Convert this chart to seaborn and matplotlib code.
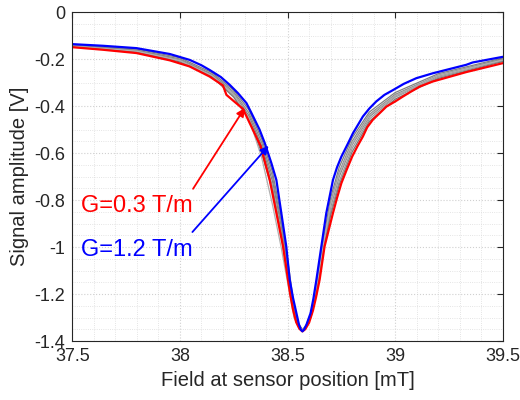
import matplotlib
matplotlib.use("Agg")
import matplotlib.pyplot as plt
import seaborn as sns
import numpy as np
import pandas as pd
from matplotlib.ticker import MultipleLocator

# ---------------- data ----------------
red_x = [37.5, 37.643, 37.798, 37.953, 38.045, 38.138, 38.200, 38.216, 38.293, 38.324,
         38.375, 38.417, 38.448, 38.479, 38.502, 38.512, 38.525, 38.540, 38.555, 38.569,
         38.582, 38.600, 38.618, 38.632, 38.649, 38.672, 38.711, 38.730, 38.750, 38.775,
         38.800, 38.825, 38.850, 38.870, 38.896, 38.930, 38.959, 39.0, 39.036, 39.07,
         39.113, 39.175, 39.330, 39.5]
red_y = [-0.149, -0.160, -0.174, -0.205, -0.231, -0.274, -0.312, -0.352, -0.412, -0.472,
         -0.570, -0.714, -0.855, -0.997, -1.139, -1.20, -1.265, -1.320, -1.348, -1.359,
         -1.350, -1.322, -1.270, -1.215, -1.139, -0.997, -0.855, -0.790, -0.728, -0.670,
         -0.615, -0.570, -0.529, -0.490, -0.458, -0.428, -0.402, -0.380, -0.359, -0.340,
         -0.317, -0.295, -0.255, -0.217]

blue_x = [37.5, 37.643, 37.798, 37.953, 38.045, 38.10, 38.138, 38.19, 38.231, 38.27,
          38.309, 38.33, 38.355, 38.37, 38.394, 38.425, 38.448, 38.471, 38.494, 38.510,
          38.525, 38.541, 38.553, 38.562, 38.569, 38.576, 38.588, 38.607, 38.62, 38.634,
          38.657, 38.680, 38.711, 38.73, 38.750, 38.78, 38.804, 38.83, 38.850, 38.88,
          38.912, 38.95, 38.989, 39.04, 39.098, 39.175, 39.330, 39.36, 39.5]
blue_y = [-0.136, -0.143, -0.153, -0.178, -0.203, -0.226, -0.246, -0.276, -0.309, -0.345,
          -0.387, -0.425, -0.472, -0.500, -0.557, -0.643, -0.714, -0.855, -0.997, -1.139,
          -1.215, -1.281, -1.330, -1.352, -1.359, -1.352, -1.330, -1.281, -1.220, -1.139,
          -0.997, -0.855, -0.714, -0.660, -0.615, -0.560, -0.515, -0.475, -0.444, -0.410,
          -0.380, -0.352, -0.332, -0.305, -0.281, -0.260, -0.224, -0.214, -0.190]

gray_x = [37.5, 37.8, 38.0, 38.15, 38.25, 38.32, 38.38, 38.43, 38.47, 38.50, 38.53,
          38.55, 38.57, 38.585, 38.61, 38.64, 38.67, 38.70, 38.74, 38.80, 38.88, 39.0,
          39.2, 39.5]
gray1 = [-0.139, -0.157, -0.194, -0.258, -0.332, -0.415, -0.54, -0.68, -0.87, -1.05, -1.25,
         -1.325, -1.352, -1.335, -1.28, -1.12, -0.95, -0.79, -0.66, -0.535, -0.425, -0.342,
         -0.262, -0.195]
gray2 = [-0.141, -0.161, -0.199, -0.264, -0.340, -0.428, -0.555, -0.70, -0.89, -1.07, -1.26,
         -1.330, -1.352, -1.338, -1.285, -1.135, -0.965, -0.81, -0.68, -0.55, -0.435, -0.350,
         -0.268, -0.199]
gray3 = [-0.143, -0.164, -0.204, -0.268, -0.348, -0.44, -0.57, -0.72, -0.91, -1.09, -1.27,
         -1.335, -1.355, -1.340, -1.29, -1.15, -0.98, -0.83, -0.70, -0.565, -0.445, -0.356,
         -0.272, -0.202]
gray4 = [-0.145, -0.167, -0.208, -0.272, -0.356, -0.45, -0.585, -0.74, -0.93, -1.10, -1.28,
         -1.338, -1.355, -1.342, -1.29, -1.16, -0.99, -0.85, -0.72, -0.58, -0.455, -0.362,
         -0.277, -0.206]
gray5 = [-0.146, -0.170, -0.212, -0.276, -0.362, -0.455, -0.60, -0.76, -0.95, -1.12, -1.29,
         -1.335, -1.350, -1.345, -1.295, -1.17, -1.00, -0.865, -0.735, -0.595, -0.465, -0.370,
         -0.282, -0.210]
gray6 = [-0.144, -0.166, -0.206, -0.27, -0.35, -0.45, -0.62, -0.82, -1.00, -1.15, -1.30,
         -1.340, -1.350, -1.335, -1.28, -1.14, -0.97, -0.82, -0.69, -0.56, -0.44, -0.355,
         -0.27, -0.203]
grays = [gray1, gray2, gray3, gray4, gray5, gray6]
gray_colors = ["#7f7f7f", "#8a8a8a", "#808080", "#9a9a9a", "#777777", "#b0b0b0"]

x_ticks = [37.5, 38, 38.5, 39, 39.5]
x_ticklabels = ["37.5", "38", "38.5", "39", "39.5"]
y_ticks = [-1.4, -1.2, -1.0, -0.8, -0.6, -0.4, -0.2, 0]
y_ticklabels = ["-1.4", "-1.2", "-1", "-0.8", "-0.6", "-0.4", "-0.2", "0"]

label_red = "G=0.3 T/m"
label_blue = "G=1.2 T/m"
arrow_red = [(38.061, -0.752), (38.301, -0.408)]
arrow_blue = [(38.058, -0.936), (38.412, -0.569)]

# ---------------- style ----------------
sns.set_style("white")
plt.rcParams["font.family"] = ["Liberation Sans", "DejaVu Sans"]
txt = "#262626"

fig = plt.figure(figsize=(5.2, 4.0), dpi=100)
ax = fig.add_axes([0.139, 0.1475, 0.828, 0.822])

for g, c in zip(grays, gray_colors):
    sns.lineplot(x=gray_x, y=g, ax=ax, color=c, linewidth=0.9, sort=False,
                 estimator=None)
sns.lineplot(x=red_x, y=red_y, ax=ax, color="#ff0000", linewidth=1.6, sort=False,
             estimator=None)
sns.lineplot(x=blue_x, y=blue_y, ax=ax, color="#0000ff", linewidth=1.6, sort=False,
             estimator=None)

ax.set_xlim(37.5, 39.5)
ax.set_ylim(-1.4, 0)
ax.set_xticks(x_ticks)
ax.set_xticklabels(x_ticklabels)
ax.set_yticks(y_ticks)
ax.set_yticklabels(y_ticklabels)
ax.xaxis.set_minor_locator(MultipleLocator(0.1))
ax.yaxis.set_minor_locator(MultipleLocator(0.05))

ax.grid(True, which="major", color="#d0d0d0", linestyle=":", linewidth=0.8)
ax.grid(True, which="minor", color="#dcdcdc", linestyle=":", linewidth=0.6)
ax.set_axisbelow(True)

ax.tick_params(which="major", direction="in", length=4, width=0.8, colors=txt,
               labelsize=13, top=True, right=True, pad=5)
ax.tick_params(which="minor", length=0, top=True, right=True)
for s in ax.spines.values():
    s.set_visible(True)
    s.set_color(txt)
    s.set_linewidth(0.8)

ax.set_xlabel("Field at sensor position [mT]", fontsize=14.5, color=txt, labelpad=4)
ax.set_ylabel("Signal amplitude [V]", fontsize=14.5, color=txt, labelpad=4)

ax.annotate("", xy=arrow_red[1], xytext=arrow_red[0],
            arrowprops=dict(arrowstyle="-|>", color="#ff0000", lw=1.3,
                            mutation_scale=12, shrinkA=0, shrinkB=0))
ax.annotate("", xy=arrow_blue[1], xytext=arrow_blue[0],
            arrowprops=dict(arrowstyle="-|>", color="#0000ff", lw=1.3,
                            mutation_scale=12, shrinkA=0, shrinkB=0))
ax.text(37.54, -0.827, label_red, color="#ff0000", fontsize=17, va="center", ha="left")
ax.text(37.54, -1.012, label_blue, color="#0000ff", fontsize=17, va="center", ha="left")

fig.savefig("out.png", dpi=100)
